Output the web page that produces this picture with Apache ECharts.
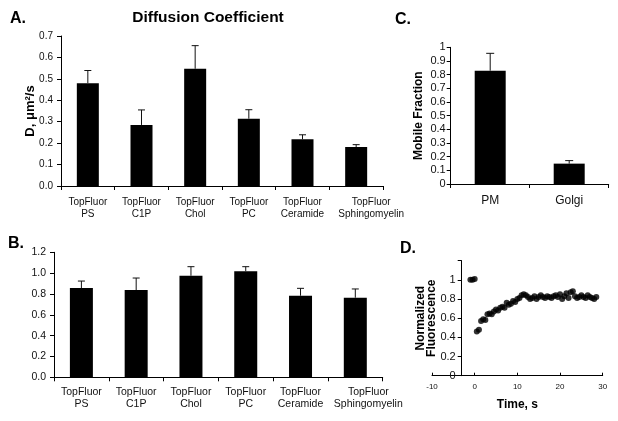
<!DOCTYPE html>
<html>
<head>
<meta charset="utf-8">
<script src="https://cdn.jsdelivr.net/npm/echarts@6/dist/echarts.min.js"></script>
<style>html,body{margin:0;padding:0;background:#fff}#c{width:618px;height:421px}</style>
</head>
<body>
<div id="c"></div>
<script>
// ---- data ----
const lipidCats = ['TopFluor\nPS','TopFluor\nC1P','TopFluor\nChol','TopFluor\nPC','TopFluor\nCeramide','TopFluor\nSphingomyelin'];
const diffMean = [0.48, 0.285, 0.547, 0.314, 0.218, 0.182];
const diffErr  = [0.059, 0.07, 0.108, 0.042, 0.021, 0.011];
const mobMean  = [0.857, 0.838, 0.975, 1.018, 0.783, 0.764];
const mobErr   = [0.067, 0.115, 0.087, 0.044, 0.071, 0.084];
const locCats  = ['PM','Golgi'];
const locMean  = [0.829, 0.149];
const locErr   = [0.127, 0.022];
const frapTime = [-1.0,-0.5,0.0,0.5,1.0,1.5,2.0,2.5,3.0,3.5,4.0,4.5,5.0,5.5,6.0,6.5,7.0,7.5,8.0,8.5,9.0,9.5,10.0,10.5,11.0,11.5,12.0,12.5,13.0,13.5,14.0,14.5,15.0,15.5,16.0,16.5,17.0,17.5,18.0,18.5,19.0,19.5,20.0,20.5,21.0,21.5,22.0,22.5,23.0,23.5,24.0,24.5,25.0,25.5,26.0,26.5,27.0,27.5,28.0,28.5];
const frapVal  = [1.0,1.0,1.01,0.46,0.48,0.57,0.59,0.58,0.64,0.65,0.64,0.67,0.69,0.68,0.71,0.72,0.71,0.76,0.74,0.75,0.78,0.77,0.80,0.81,0.84,0.85,0.84,0.82,0.80,0.81,0.83,0.80,0.82,0.84,0.82,0.81,0.83,0.82,0.81,0.83,0.84,0.82,0.85,0.80,0.83,0.86,0.81,0.87,0.88,0.83,0.81,0.82,0.84,0.82,0.81,0.84,0.82,0.81,0.80,0.82];

const FONT = '"Liberation Sans", Arial, sans-serif';
const TXT = '#111';

function errRender(capHalf){
  return function(params, api){
    const base = api.coord([api.value(0), api.value(1)]);
    const top = api.coord([api.value(0), api.value(1) + api.value(2)]);
    return {type:'group', children:[
      {type:'line', shape:{x1:base[0], y1:base[1], x2:top[0], y2:top[1]}, style:{stroke:'#111', lineWidth:1}},
      {type:'line', shape:{x1:top[0]-capHalf, y1:top[1], x2:top[0]+capHalf, y2:top[1]}, style:{stroke:'#111', lineWidth:1}}
    ]};
  };
}
function errData(mean, err){ return mean.map((m,i)=>[i, m, err[i]]); }
// last long label is nudged right (as the spreadsheet did) so it does not collide
function catItems(cats, shift){
  return cats.map((c,i)=> i===cats.length-1 && shift ? {value:c, textStyle:{padding:[0,0,0,shift]}} : c);
}

const axisLine = {show:true, lineStyle:{color:'#000', width:1}};
function catAxis(gi, cats, size, margin, lh){
  return {type:'category', gridIndex:gi, data:cats, boundaryGap:true,
    axisLine:{...axisLine, onZero:false}, axisTick:{show:true, alignWithLabel:false, length:4, lineStyle:{color:'#000'}},
    axisLabel:{color:TXT, fontFamily:FONT, fontSize:size, margin:margin, lineHeight:lh, interval:0, hideOverlap:false},
    splitLine:{show:false}};
}
function valAxis(gi, max, interval, size, margin, fmt){
  return {type:'value', gridIndex:gi, min:0, max:max, interval:interval,
    axisLine:{...axisLine, onZero:false}, axisTick:{show:true, length:4, lineStyle:{color:'#000'}},
    axisLabel:{color:TXT, fontFamily:FONT, fontSize:size, margin:margin, formatter:fmt},
    splitLine:{show:false}, nameMoveOverlap:false};
}

const chart = echarts.init(document.getElementById('c'), null, {renderer:'canvas'});
const yA = valAxis(0, 0.7, 0.1, 10, 8, v=>v.toFixed(1));
yA.name = 'D, μm²/s'; yA.nameLocation='middle'; yA.nameGap=24;
yA.nameTextStyle = {fontFamily:FONT, fontWeight:'bold', fontSize:13, color:'#000'};
const yB = valAxis(1, 1.2, 0.2, 10.5, 8, v=>v.toFixed(1));
const yC = valAxis(2, 1, 0.1, 11, 5, v=>String(+v.toFixed(1)));
yC.name = 'Mobile Fraction'; yC.nameLocation='middle'; yC.nameGap=26;
yC.nameTextStyle = {fontFamily:FONT, fontWeight:'bold', fontSize:12, color:'#000'};
const yD = valAxis(3, 1.2, 0.2, 11, 6, v=> v>1.1 ? '' : String(+v.toFixed(1)));
yD.offset = -29.7;
yD.name = 'Normalized\nFluorescence'; yD.nameLocation='middle'; yD.nameGap=25;
yD.nameTextStyle = {fontFamily:FONT, fontWeight:'bold', fontSize:12, color:'#000', lineHeight:11};

const option = {
  backgroundColor:'#fff',
  animation:false,
  title:{text:'Diffusion Coefficient', left:203, top:5, textAlign:'center',
    textStyle:{fontFamily:FONT, fontWeight:'bold', fontSize:15.5, color:'#000'}},
  graphic:[
    {type:'text', left:10, top:11, style:{text:'A.', font:'bold 16px '+FONT, fill:'#000'}},
    {type:'text', left:8, top:236, style:{text:'B.', font:'bold 16px '+FONT, fill:'#000'}},
    {type:'text', left:395, top:12, style:{text:'C.', font:'bold 16px '+FONT, fill:'#000'}},
    {type:'text', left:400, top:241, style:{text:'D.', font:'bold 16px '+FONT, fill:'#000'}}
  ],
  grid:[
    {left:61, top:36, width:322, height:150},
    {left:54, top:252.3, width:328.7, height:125},
    {left:450.7, top:47.3, width:158, height:136.7},
    {left:432, top:260.7, width:170.7, height:115}
  ],
  xAxis:[
    catAxis(0, catItems(lipidCats, 30), 10, 10, 12),
    catAxis(1, catItems(lipidCats, 26), 10.5, 9, 12),
    catAxis(2, locCats, 12, 10, 14),
    {type:'value', gridIndex:3, min:-10, max:30, interval:10,
      axisLine:{...axisLine, onZero:false}, axisTick:{show:true, inside:true, length:3, lineStyle:{color:'#000'}},
      axisLabel:{color:TXT, fontFamily:FONT, fontSize:8, margin:7},
      splitLine:{show:false}, nameMoveOverlap:false,
      name:'Time, s', nameLocation:'middle', nameGap:23,
      nameTextStyle:{fontFamily:FONT, fontWeight:'bold', fontSize:12, color:'#000'}}
  ],
  yAxis:[yA, yB, yC, yD],
  series:[
    {type:'bar', xAxisIndex:0, yAxisIndex:0, data:diffMean, barWidth:22, itemStyle:{color:'#000'}},
    {type:'custom', xAxisIndex:0, yAxisIndex:0, data:errData(diffMean, diffErr), renderItem:errRender(3.5), z:3},
    {type:'bar', xAxisIndex:1, yAxisIndex:1, data:mobMean, barWidth:23, itemStyle:{color:'#000'}},
    {type:'custom', xAxisIndex:1, yAxisIndex:1, data:errData(mobMean, mobErr), renderItem:errRender(3.5), z:3},
    {type:'bar', xAxisIndex:2, yAxisIndex:2, data:locMean, barWidth:31, itemStyle:{color:'#000'}},
    {type:'custom', xAxisIndex:2, yAxisIndex:2, data:errData(locMean, locErr), renderItem:errRender(4), z:3},
    {type:'scatter', xAxisIndex:3, yAxisIndex:3, data:frapTime.map((t,i)=>[t, frapVal[i]]),
      symbol:'circle', symbolSize:6, itemStyle:{color:'#000'}}
  ]
};
chart.setOption(option);
</script>
</body>
</html>
